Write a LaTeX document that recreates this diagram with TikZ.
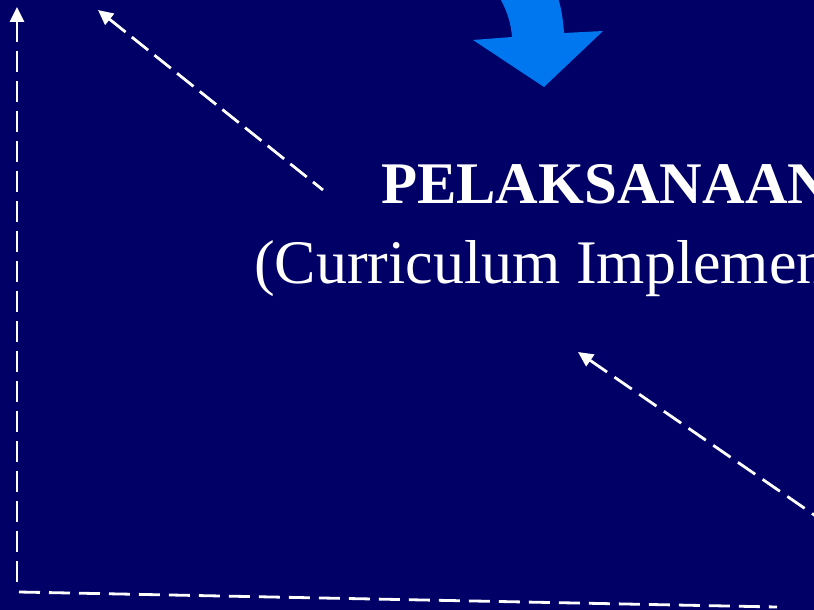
\documentclass[tikz,border=0pt]{standalone}
\usepackage{fontspec}
\setmainfont{Liberation Serif}
\usetikzlibrary{arrows.meta}
\definecolor{navy}{RGB}{0,0,102}
\definecolor{flowblue}{RGB}{0,119,238}
\tikzset{
  guide/.style={draw=white, line width=2.8pt, dash pattern=on 21pt off 9pt},
  guidearrow/.style={guide, {Triangle[length=15pt,width=14pt]}-},
  title/.style={text=white, inner sep=0pt, font=\fontsize{59}{70}\selectfont\bfseries, anchor=base west},
  subtitle/.style={text=white, inner sep=0pt, font=\fontsize{62}{72}\selectfont, anchor=base west},
}
\begin{document}
\begin{tikzpicture}[x=1pt,y=-1pt]
\useasboundingbox (0,0) rectangle (814,610);
\clip (0,0) rectangle (814,610);
\fill[navy] (-5,-5) rectangle (820,615);
% curved blue arrow
\fill[flowblue] (498,-5) .. controls (506,8) and (511,22) .. (512,37) -- (473,40) -- (544,87) -- (603,31) -- (564,33) .. controls (563,18) and (561,6) .. (557,-5) -- cycle;
% texts
\node[title] (t1) at (381,203) {PELAKSANAAN};
\node[subtitle] (t2) at (254,283) {(Curriculum Implementation)};
% coordinates
\coordinate (a1s) at (323,190);
\coordinate (a1e) at (98,10);
\coordinate (vs) at (17,588);
\coordinate (ve) at (17,7);
\coordinate (bs) at (19,592);
\coordinate (be) at (777,607);
\coordinate (a2s) at (836,530);
\coordinate (a2e) at (578,352);
% dashed guides (drawn from the tip so a dash meets each arrowhead)
\draw[guidearrow, dash pattern=on 21pt off 8pt] (a1e) -- (a1s);
\draw[guidearrow] (ve) -- (vs);
\draw[guide] (bs) -- (be);
\draw[guidearrow] (a2e) -- (a2s);
\end{tikzpicture}
\end{document}
